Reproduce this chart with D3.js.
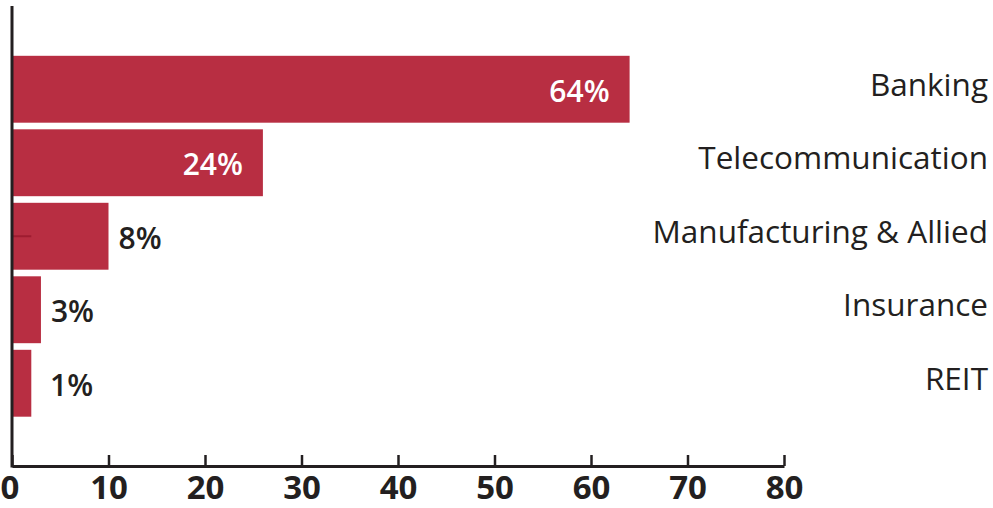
<!DOCTYPE html>
<html>
<head>
<meta charset="utf-8">
<script src="https://cdn.jsdelivr.net/npm/d3@7"></script>
<style>
  body { margin: 0; background: #fff; }
  svg { display: block; font-family: "Open Sans", "Noto Sans", sans-serif; }
</style>
</head>
<body>
<svg></svg>
<script>
// sector shares
var categories = ["Banking", "Telecommunication", "Manufacturing & Allied", "Insurance", "REIT"];
var barValues = [64, 26, 10, 3, 2];
var valueLabels = ["64%", "24%", "8%", "3%", "1%"];
var xTicks = [0, 10, 20, 30, 40, 50, 60, 70, 80];

var svgWidth = 993;
var svgHeight = 508;
var barColor = "#b82e42";
var textColor = "#231f20";

var svg = d3.select("svg")
  .attr("width", svgWidth)
  .attr("height", svgHeight);

var xScale = d3.scaleLinear()
  .domain([0, 80])
  .range([12, 784]);

var yScale = d3.scaleBand()
  .domain(categories)
  .range([52.5, 420])
  .paddingInner(0.09)
  .paddingOuter(0.045);

var rows = categories.map(function (c, i) {
  return { name: c, value: barValues[i], label: valueLabels[i] };
});

// bars
svg.selectAll("rect.bar")
  .data(rows)
  .enter()
  .append("rect")
  .attr("class", "bar")
  .attr("x", xScale(0))
  .attr("y", function (d) { return yScale(d.name); })
  .attr("width", function (d) { return xScale(d.value) - xScale(0); })
  .attr("height", yScale.bandwidth())
  .attr("fill", barColor);

// small dark mark inside the manufacturing bar
svg.append("line")
  .attr("x1", xScale(0))
  .attr("x2", xScale(2))
  .attr("y1", yScale(categories[2]) + yScale.bandwidth() / 2)
  .attr("y2", yScale(categories[2]) + yScale.bandwidth() / 2)
  .attr("stroke", "#9e1c30")
  .attr("stroke-width", 2);

// value labels
svg.selectAll("text.value")
  .data(rows)
  .enter()
  .append("text")
  .attr("class", "value")
  .attr("font-size", 30)
  .attr("font-weight", 600)
  .attr("dominant-baseline", "central")
  .attr("y", function (d) { return yScale(d.name) + yScale.bandwidth() / 2 + 1; })
  .attr("x", function (d) {
    if (d.value > 20) return xScale(d.value) - 20;
    return Math.max(xScale(d.value), 40) + 10;
  })
  .attr("text-anchor", function (d) { return d.value > 20 ? "end" : "start"; })
  .attr("fill", function (d) { return d.value > 20 ? "#fff" : textColor; })
  .text(function (d) { return d.label; });

// category labels
svg.selectAll("text.cat")
  .data(rows)
  .enter()
  .append("text")
  .attr("class", "cat")
  .attr("font-size", 31.5)
  .attr("font-weight", 500)
  .attr("dominant-baseline", "central")
  .attr("text-anchor", "end")
  .attr("x", 988)
  .attr("y", function (d) { return yScale(d.name) + yScale.bandwidth() / 2 - 6; })
  .attr("fill", textColor)
  .text(function (d) { return d.name; });

// axes
var xAxis = d3.axisBottom(xScale)
  .tickValues(xTicks)
  .tickSizeInner(-11)
  .tickSizeOuter(0)
  .tickPadding(0);

var gx = svg.append("g")
  .attr("transform", "translate(0," + 466 + ")")
  .call(xAxis);
gx.select(".domain").attr("stroke", textColor).attr("stroke-width", 3);
gx.selectAll(".tick line").attr("stroke", textColor).attr("stroke-width", 2.5);
gx.selectAll(".tick text")
  .attr("fill", textColor)
  .attr("font-size", 33)
  .attr("font-weight", 700)
  .attr("dy", 0)
  .attr("y", 33)
  .style("font-family", "'Open Sans', sans-serif");
gx.selectAll(".tick").filter(function (d) { return d === 0; })
  .select("text").attr("text-anchor", "start").attr("x", -12);

svg.append("line")
  .attr("x1", xScale(0))
  .attr("x2", xScale(0))
  .attr("y1", 6)
  .attr("y2", 467.5)
  .attr("stroke", textColor)
  .attr("stroke-width", 3);
</script>
</body>
</html>
